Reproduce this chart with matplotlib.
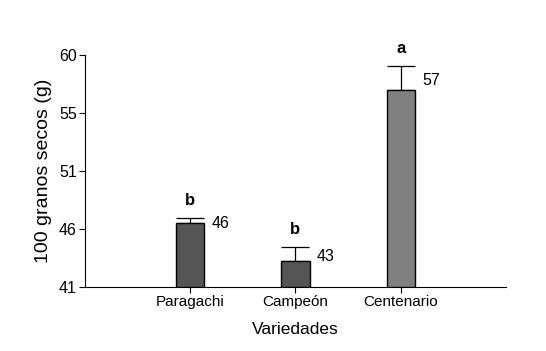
import matplotlib
matplotlib.use("Agg")
import matplotlib.pyplot as plt

categories = ["Paragachi", "Campeón", "Centenario"]
means = [46.24, 43.1, 57.1]
errors = [0.4, 1.15, 2.0]
value_labels = ["46", "43", "57"]
letters = ["b", "b", "a"]
colors = ["#555555", "#555555", "#808080"]
yticks = [41, 45.75, 50.5, 55.25, 60]
ytick_labels = ["41", "46", "51", "55", "60"]

plt.rcParams['font.family'] = ['Liberation Sans', 'DejaVu Sans']

fig = plt.figure(figsize=(5.46, 3.51), dpi=100)
ax = fig.add_axes([0.1557, 0.1832, 0.771, 0.66])

x = [1, 2, 3]
ax.bar(x, [m - 41 for m in means], bottom=41, width=0.27, color=colors,
       edgecolor="black", linewidth=1.0, zorder=3)
ax.errorbar(x, means, yerr=[[0, 0, 0], errors], fmt="none", ecolor="black",
            elinewidth=0.9, capsize=10, capthick=0.9, zorder=2)

for xi, m, e, lab, let in zip(x, means, errors, value_labels, letters):
    ax.annotate(lab, xy=(xi + 0.135, m + e * 0.5), xytext=(5, -2),
                textcoords="offset points", ha="left", va="center", fontsize=11.5)
    ax.annotate(let, xy=(xi, m + e), xytext=(0, 7), textcoords="offset points",
                ha="center", va="bottom", fontsize=12, fontweight="bold")

ax.set_xlim(0, 4)
ax.set_ylim(41, 60)
ax.set_xticks(x)
ax.set_xticklabels(categories, fontsize=11)
ax.set_yticks(yticks)
ax.set_yticklabels(ytick_labels, fontsize=11.5)
ax.tick_params(axis="both", length=4, width=0.8, pad=2)
ax.spines["top"].set_visible(False)
ax.spines["right"].set_visible(False)
ax.set_xlabel("Variedades", fontsize=12.5, labelpad=9)
ax.set_ylabel("100 granos secos (g)", fontsize=14, labelpad=5)

fig.savefig("out.png", dpi=100)
